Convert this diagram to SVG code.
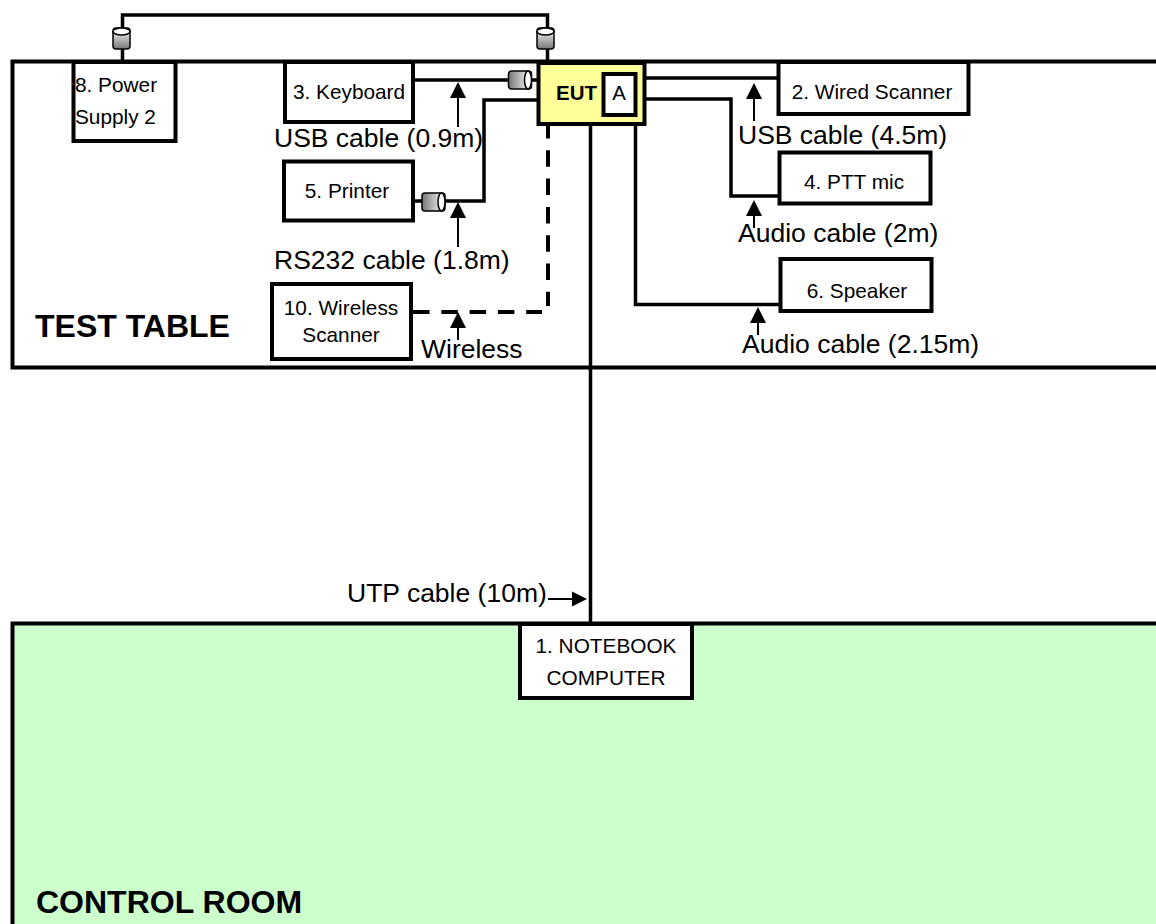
<svg xmlns="http://www.w3.org/2000/svg" width="1156" height="924" viewBox="0 0 1156 924">
<style>
text{font-family:"Liberation Sans",Arial,sans-serif;fill:#000}
.n{font-size:20.800px;text-anchor:middle}
.l{font-size:26.500px}
.t{font-size:32px;font-weight:bold}
.b{fill:#fff;stroke:#000;stroke-width:4}
.c{fill:none;stroke:#000;stroke-width:3.500}
.d{fill:none;stroke:#000;stroke-width:4;stroke-dasharray:16.500 11.800}
.a{fill:none;stroke:#000;stroke-width:2}
.cy{stroke:#000;stroke-width:1.500}
.e{fill:#fff;stroke:#000;stroke-width:1.500}
</style>
<defs>
<linearGradient id="gv" x1="0" y1="0" x2="0" y2="1"><stop offset="0" stop-color="#fff"/><stop offset="1" stop-color="#777"/></linearGradient>
<linearGradient id="gh" x1="0" y1="0" x2="1" y2="0"><stop offset="0" stop-color="#777"/><stop offset="1" stop-color="#fff"/></linearGradient>
<g id="cv"><rect class="cy" x="0" y="0" width="17" height="21" rx="3" fill="url(#gv)"/><ellipse class="e" cx="8.500" cy="3.500" rx="8.500" ry="3.500"/></g>
<g id="ch"><rect class="cy" x="0" y="0" width="23" height="18" rx="3" fill="url(#gh)"/><ellipse class="e" cx="19.500" cy="9" rx="3.500" ry="9"/></g>
<polygon id="up" points="0,0 8,16 -8,16" fill="#000"/>
</defs>
<g id="areas">
<path id="test-table" d="M1160 61.500H12.500V367.500H1160" fill="#fff" stroke="#000" stroke-width="4"/>
<path id="control-room" d="M1160 623.500H12.500V930H1160Z" fill="#ccffcc" stroke="#000" stroke-width="4"/>
<text class="t" x="35" y="337">TEST TABLE</text>
<text class="t" x="36" y="913">CONTROL ROOM</text>
</g>
<g id="connectors">
<path class="c" d="M122.500 61V15H547.500V61"/>
<path class="c" d="M413 80H510M530 80H537"/>
<path class="c" d="M413 201H484V100H537"/>
<path class="c" d="M646 78H777"/>
<path class="c" d="M646 99H731V196H779"/>
<path class="c" d="M635.500 124V304.500H780"/>
<path class="c" d="M590.500 124V623"/>
<path class="d" d="M548 122V306"/>
<path class="d" d="M413 312H542"/>
<use href="#cv" x="113" y="28"/>
<use href="#cv" x="537" y="28"/>
<use href="#ch" x="508.500" y="71"/>
<use href="#ch" x="422" y="193"/>
<use href="#up" x="458" y="82"/><path class="a" d="M458 96V127"/>
<use href="#up" x="458" y="202"/><path class="a" d="M458 216V247"/>
<use href="#up" x="458" y="312"/><path class="a" d="M458 326V340"/>
<use href="#up" x="754" y="83"/><path class="a" d="M754 97V121"/>
<use href="#up" x="754" y="200"/><path class="a" d="M754 214V228"/>
<use href="#up" x="758" y="307"/><path class="a" d="M758 321V335"/>
<path class="a" d="M548 599H574"/><polygon points="587,599 572,591.500 572,606.500" fill="#000"/>
</g>
<g id="node-8"><rect class="b" x="73.500" y="62" width="102" height="79"/><text class="n" x="75" y="92" style="text-anchor:start">8. Power</text><text class="n" x="75" y="124" style="text-anchor:start">Supply 2</text></g>
<g id="node-3"><rect class="b" x="285" y="62" width="128" height="60"/><text class="n" x="349" y="99">3. Keyboard</text></g>
<g id="eut"><rect x="538.500" y="63" width="106" height="61" fill="#ffff99" stroke="#000" stroke-width="4"/><rect class="b" x="603.500" y="74" width="32" height="41"/><text x="576.500" y="100" font-size="20.500" font-weight="bold" text-anchor="middle">EUT</text><text x="619" y="100" font-size="20.500" text-anchor="middle">A</text></g>
<g id="node-5"><rect class="b" x="284" y="161.500" width="129" height="59"/><text class="n" x="347" y="198">5. Printer</text></g>
<g id="node-10"><rect class="b" x="272" y="284" width="139" height="75"/><text class="n" x="341" y="315">10. Wireless</text><text class="n" x="341" y="342">Scanner</text></g>
<g id="node-2"><rect class="b" x="778.500" y="62" width="190" height="52"/><text class="n" x="872" y="99">2. Wired Scanner</text></g>
<g id="node-4"><rect class="b" x="779.500" y="152.500" width="151" height="51"/><text class="n" x="854" y="189">4. PTT mic</text></g>
<g id="node-6"><rect class="b" x="780.500" y="259" width="151" height="52"/><text class="n" x="857" y="298">6. Speaker</text></g>
<g id="node-1"><rect class="b" x="520" y="624" width="172" height="74"/><text class="n" x="606" y="653">1. NOTEBOOK</text><text class="n" x="606" y="685">COMPUTER</text></g>
<g id="labels">
<text class="l" x="274" y="147">USB cable (0.9m)</text>
<text class="l" x="274" y="269">RS232 cable (1.8m)</text>
<text class="l" x="421" y="358">Wireless</text>
<text class="l" x="738" y="144">USB cable (4.5m)</text>
<text class="l" x="738" y="242">Audio cable (2m)</text>
<text class="l" x="742" y="353">Audio cable (2.15m)</text>
<text class="l" x="347" y="602">UTP cable (10m)</text>
</g>
</svg>
